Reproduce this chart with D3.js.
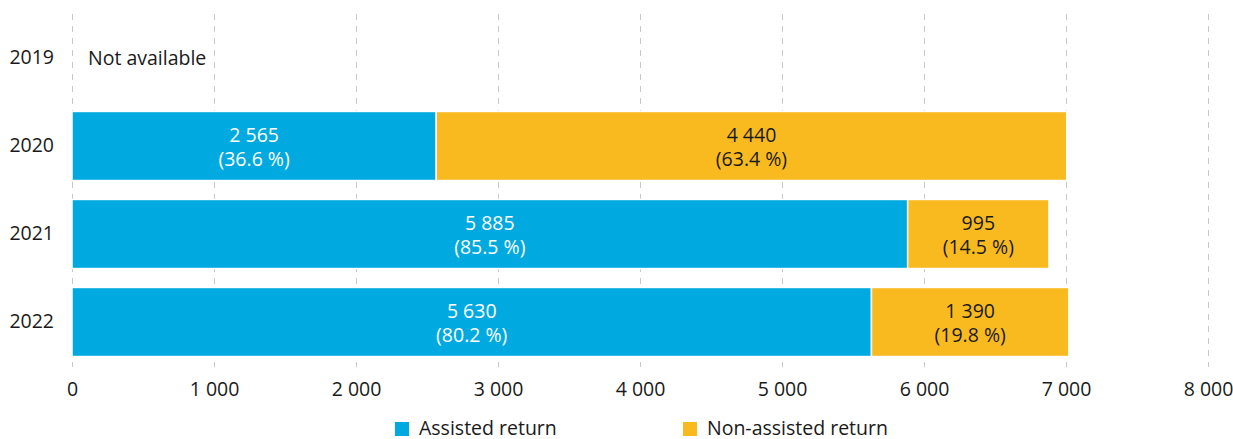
<!DOCTYPE html>
<html><head><meta charset="utf-8">
<script src="https://cdn.jsdelivr.net/npm/d3@7"></script>
<style>
body{margin:0;background:#fff;}
svg text{font-family:"Open Sans",sans-serif;}
</style></head>
<body>
<svg id="chart" width="1233" height="439"></svg>
<script>
const years = ["2019","2020","2021","2022"];
const assisted = [null, 2565, 5885, 5630];
const nonAssisted = [null, 4440, 995, 1390];
const seriesNames = ["Assisted return","Non-assisted return"];
const seriesColors = ["#00AAE1","#F9BA20"];
const xTicks = [0,1000,2000,3000,4000,5000,6000,7000,8000];
const missingLabel = "Not available";

const svg = d3.select("#chart");
const fs = 19.5;
const x = d3.scaleLinear().domain([0,8000]).range([72,1208]);
const y = d3.scaleBand().domain(years).range([14,366]).paddingInner(0.215).paddingOuter(0.1075);
const fmt = v => d3.format(",")(v).replace(/,/g," ");
const pfmt = v => "(" + d3.format(".1f")(v) + " %)";

// grid
svg.append("g").selectAll("line").data(xTicks).join("line")
  .attr("x1",d=>x(d)+0.5).attr("x2",d=>x(d)+0.5)
  .attr("y1",14).attr("y2",367)
  .attr("stroke","#c8c8c8").attr("stroke-width",1).attr("stroke-dasharray","6,6");

// x axis labels
const xAxis = d3.axisBottom(x).tickValues(xTicks).tickFormat(fmt).tickSize(0).tickPadding(0);
const gx = svg.append("g").attr("transform","translate(0,382)").call(xAxis);
gx.select(".domain").remove();
gx.selectAll("text").attr("font-size",fs).attr("fill","#1a1a1a").attr("font-family","Open Sans, sans-serif");

// y axis labels
const yAxis = d3.axisLeft(y).tickSize(0).tickPadding(0);
const gy = svg.append("g").attr("transform","translate(54,0)").call(yAxis);
gy.select(".domain").remove();
gy.selectAll("text").attr("font-size",fs).attr("fill","#1a1a1a").attr("font-family","Open Sans, sans-serif");

// bars
const rows = years.map((yr,i)=>({yr, a:assisted[i], n:nonAssisted[i]}));
rows.forEach(r=>{
  if(r.a==null){
    svg.append("text").attr("x",88).attr("y",y(r.yr)+y.bandwidth()/2).attr("dy","0.35em")
      .attr("font-size",fs).attr("fill","#1a1a1a").text(missingLabel);
    return;
  }
  const tot = r.a + r.n;
  const segs = [{v0:0,v1:r.a,val:r.a,c:0},{v0:r.a,v1:tot,val:r.n,c:1}];
  segs.forEach(s=>{
    svg.append("rect").attr("x",x(s.v0)).attr("width",x(s.v1)-x(s.v0))
      .attr("y",y(r.yr)).attr("height",y.bandwidth())
      .attr("fill",seriesColors[s.c]).attr("stroke","#fff").attr("stroke-width",1.5);
    const cx = (x(s.v0)+x(s.v1))/2, cy = y(r.yr)+y.bandwidth()/2;
    const col = s.c===0 ? "#fff" : "#1a1a1a";
    const t = svg.append("text").attr("text-anchor","middle").attr("font-size",fs).attr("fill",col);
    t.append("tspan").attr("x",cx).attr("y",cy-11).attr("dy","0.35em").text(fmt(s.val));
    t.append("tspan").attr("x",cx).attr("y",cy+13).attr("dy","0.35em").text(pfmt(s.val/tot*100));
  });
});

// legend
const legX = [395, 683];
seriesNames.forEach((nm,i)=>{
  svg.append("rect").attr("x",legX[i]).attr("y",422).attr("width",14).attr("height",14).attr("fill",seriesColors[i]);
  svg.append("text").attr("x",legX[i]+24).attr("y",428).attr("dy","0.35em").attr("font-size",fs).attr("fill","#1a1a1a").text(nm);
});
</script>
</body></html>
